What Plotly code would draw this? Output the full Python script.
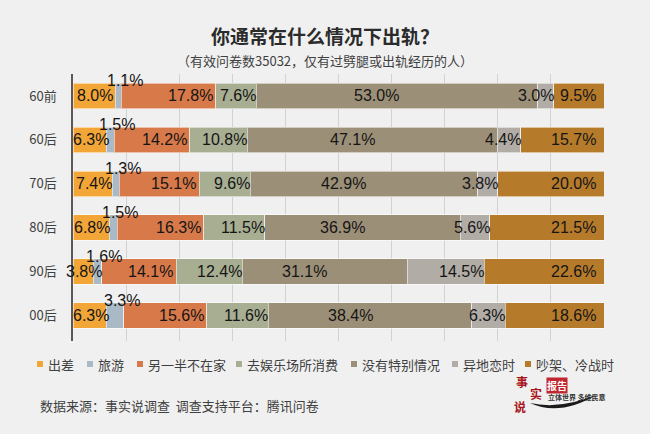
import plotly.graph_objects as go

# ---------------- data ----------------
categories = ["60前", "60后", "70后", "80后", "90后", "00后"]
series_names = ["出差", "旅游", "另一半不在家", "去娱乐场所消费", "没有特别情况", "异地恋时", "吵架、冷战时"]
chuchai = [8.0, 6.3, 7.4, 6.8, 3.8, 6.3]
lvyou = [1.1, 1.5, 1.3, 1.5, 1.6, 3.3]
lingyiban = [17.8, 14.2, 15.1, 16.3, 14.1, 15.6]
yule = [7.6, 10.8, 9.6, 11.5, 12.4, 11.6]
meiyou = [53.0, 47.1, 42.9, 36.9, 31.1, 38.4]
yidi = [3.0, 4.4, 3.8, 5.6, 14.5, 6.3]
chaojia = [9.5, 15.7, 20.0, 21.5, 22.6, 18.6]
series_values = [chuchai, lvyou, lingyiban, yule, meiyou, yidi, chaojia]

title_text = "你通常在什么情况下出轨？"
subtitle_text = "（有效问卷数35032，仅有过劈腿或出轨经历的人）"
source_text = "数据来源：事实说调查  调查支持平台：腾讯问卷"

# ---------------- styles ----------------
colors = ["#F3A638", "#A9B9C6", "#D8794A", "#A7AE92", "#9C8F78", "#B1ACA6", "#B57B2B"]
# (anchor mode, xshift px, yshift px) for data labels of each series
label_styles = [("center", 1, 0), ("center", 7, 15), ("end", -1, 0), ("end", 2, 0),
                ("center", -20, 0), ("end", 2, 0), ("end", -6, 0)]
legend_marker_px = [40, 90, 140, 239, 354, 455, 528]

CJK = "Noto Sans CJK SC"
NUM = "Liberation Sans"
BG = "#F0F0F0"

W, H = 650, 434
L, R, T, B = 73, 604, 74, 341


def px_x(p):
    return (p - L) / (R - L)


def px_y(p):
    return (B - p) / (B - T)


fig = go.Figure()
for name, vals, col in zip(series_names, series_values, colors):
    fig.add_trace(go.Bar(
        y=categories, x=vals, name=name, orientation="h",
        marker=dict(color=col, line=dict(color="rgba(255,255,255,0.55)", width=1)),
        hoverinfo="x+name", showlegend=False,
    ))

annotations = []
# data labels (normalised like a 100% stacked bar)
for ci, cat in enumerate(categories):
    total = sum(s[ci] for s in series_values)
    cum = 0.0
    for si, vals in enumerate(series_values):
        v = vals[ci]
        start = min(cum / total * 100, 100.0)
        end = min((cum + v) / total * 100, 100.0)
        cum += v
        mode, xs, ys = label_styles[si]
        if mode == "center":
            x, xa = (start + end) / 2, "center"
        else:
            x, xa = end, "right"
        annotations.append(dict(
            x=x, y=cat, xref="x", yref="y", text=f"{v:.1f}%", showarrow=False,
            xanchor=xa, yanchor="middle", xshift=xs, yshift=ys,
            font=dict(family=NUM, size=16, color="#151515"),
        ))

# subtitle
annotations.append(dict(x=px_x(325), y=px_y(60), xref="paper", yref="paper",
                        text=subtitle_text, showarrow=False, xanchor="center", yanchor="middle",
                        font=dict(family=CJK, size=13, color="#404040")))

# manual legend
shapes = []
for name, col, mx in zip(series_names, colors, legend_marker_px):
    shapes.append(dict(type="rect", xref="paper", yref="paper",
                       x0=px_x(mx - 3), x1=px_x(mx + 3), y0=px_y(367), y1=px_y(361),
                       fillcolor=col, line=dict(width=0)))
    annotations.append(dict(x=px_x(mx + 6), y=px_y(364.5), xref="paper", yref="paper",
                            text=name, showarrow=False, xanchor="left", yanchor="middle",
                            font=dict(family=CJK, size=13, color="#404040")))

# source
annotations.append(dict(x=px_x(38), y=px_y(405), xref="paper", yref="paper",
                        text=source_text, showarrow=False, xanchor="left", yanchor="middle",
                        font=dict(family=CJK, size=13, color="#404040")))

# logo (text-based approximation)
logo_red = "#A8151B"
for ch, cx, cy in [("事", 522, 381), ("实", 536, 393), ("说", 520, 406)]:
    annotations.append(dict(x=px_x(cx), y=px_y(cy), xref="paper", yref="paper",
                            text=f"<b>{ch}</b>", showarrow=False, xanchor="center", yanchor="middle",
                            font=dict(family=CJK, size=12, color=logo_red)))
annotations.append(dict(x=px_x(557), y=px_y(385), xref="paper", yref="paper", text="<b>报告</b>",
                        showarrow=False, xanchor="center", yanchor="middle", bgcolor="#C0262D",
                        borderpad=0, font=dict(family=CJK, size=10, color="white")))
annotations.append(dict(x=px_x(577), y=px_y(397), xref="paper", yref="paper", text="<b>立体世界 多维民意</b>",
                        showarrow=False, xanchor="center", yanchor="middle",
                        font=dict(family=CJK, size=7, color="#333333")))

x0, y0 = px_x(530), px_y(403)
cx1, cy1 = px_x(560), px_y(417)
x1, y1 = px_x(598), px_y(394)
cx2, cy2 = px_x(561), px_y(410)
shapes.append(dict(type="path", xref="paper", yref="paper",
                   path=f"M {x0},{y0} Q {cx1},{cy1} {x1},{y1} Q {cx2},{cy2} {x0},{y0} Z",
                   fillcolor="#1a1a1a", line=dict(width=0)))

fig.update_layout(
    barmode="stack", barnorm="percent", bargap=0.42,
    width=W, height=H,
    margin=dict(l=L, r=W - R, t=T, b=H - B, pad=0),
    paper_bgcolor=BG, plot_bgcolor=BG,
    title=dict(text=f"<b>{title_text}</b>", x=px_x(325), xref="paper", xanchor="center",
               y=1 - 37 / H, yref="container", yanchor="middle",
               font=dict(family=CJK, size=19, color="#2b2b2b")),
    xaxis=dict(range=[0, 100], dtick=10, showgrid=True, gridcolor="#D2D2D2", gridwidth=1,
               showticklabels=False, zeroline=False, showline=False, ticks="", fixedrange=True),
    yaxis=dict(categoryorder="array", categoryarray=categories, autorange="reversed",
               showline=True, linecolor="#595959", linewidth=1.5, ticks="",
               ticklabelstandoff=12, showgrid=False, zeroline=False,
               tickfont=dict(family=CJK, size=13, color="#404040"), fixedrange=True),
    annotations=annotations,
    shapes=shapes,
    showlegend=False,
)

fig.write_html("out.html", config={"displayModeBar": False},
               post_script="document.body.style.margin='0';document.body.style.padding='0';"
                           "document.body.style.background='#F0F0F0';")
